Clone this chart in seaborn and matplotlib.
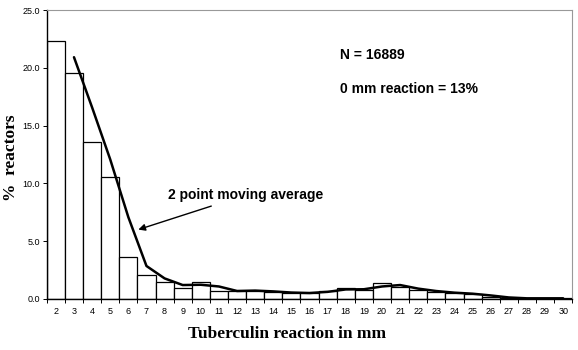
import matplotlib
matplotlib.use("Agg")
import matplotlib.pyplot as plt
import seaborn as sns
import numpy as np
import pandas as pd

mm = list(range(2, 31))
pct = [22.3, 19.55, 13.6, 10.55, 3.6, 2.1, 1.45, 0.95, 1.5, 0.65,
       0.72, 0.72, 0.58, 0.52, 0.5, 0.72, 0.92, 0.75, 1.4, 1.0,
       0.78, 0.58, 0.5, 0.4, 0.2, 0.05, 0.05, 0.05, 0.05]
yticks = [0, 5, 10, 15, 20, 25]

df = pd.DataFrame({"mm": mm, "pct": pct})
df["ma"] = df["pct"].rolling(2).mean()

sns.set_theme(style="white")
plt.rcParams["font.family"] = ["Liberation Sans", "DejaVu Sans"]
plt.rcParams["text.color"] = "black"
plt.rcParams["axes.labelcolor"] = "black"
plt.rcParams["xtick.color"] = "black"
plt.rcParams["ytick.color"] = "black"

fig = plt.figure(figsize=(5.78, 3.5), dpi=100)
ax = fig.add_axes([0.081, 0.146, 0.909, 0.825])

sns.barplot(data=df, x="mm", y="pct", color="white", edgecolor="black",
            linewidth=0.9, width=1.0, saturation=1, ax=ax)
pos = np.arange(len(mm))
sns.lineplot(x=pos[1:], y=df["ma"].values[1:], color="black", linewidth=1.8, ax=ax)

ax.set_xlim(-0.5, len(mm) - 0.5)
ax.set_ylim(0, 25)
ax.set_yticks(yticks)
ax.set_yticklabels([f"{v:.1f}" for v in yticks], fontsize=6.5)
ax.set_xticks(pos)
ax.set_xticklabels([str(m) for m in mm], fontsize=6.5)
ax.set_xticks(np.arange(-0.5, len(mm)), minor=True)
ax.tick_params(axis="x", which="major", length=0, pad=6)
ax.tick_params(axis="x", which="minor", length=3, width=0.7, color="black", bottom=True)
ax.tick_params(axis="y", length=3, width=0.7, color="black", left=True, pad=2)

for s in ["left", "bottom"]:
    ax.spines[s].set_color("black")
    ax.spines[s].set_linewidth(1.0)
for s in ["top", "right"]:
    ax.spines[s].set_color("#999999")
    ax.spines[s].set_linewidth(0.8)

ax.set_xlabel("Tuberculin reaction in mm", fontfamily="Liberation Serif",
              fontweight="bold", fontsize=12.5)
ax.set_ylabel("%  reactors", fontfamily="Liberation Serif",
              fontweight="bold", fontsize=12.5)
ax.xaxis.set_label_coords(0.458, -0.121)
ax.yaxis.set_label_coords(-0.068, 0.49)
ax.xaxis.label.set_va("center")
ax.yaxis.label.set_va("center")

ax.text(15.7, 21.1, "N = 16889", fontsize=10, fontweight="bold", va="center", ha="left")
ax.text(15.7, 18.2, "0 mm reaction = 13%", fontsize=10, fontweight="bold", va="center", ha="left")
ax.annotate("2 point moving average", xy=(4.55, 6.0), xytext=(6.2, 9.0),
            fontsize=10, fontweight="bold", va="center", ha="left",
            arrowprops=dict(arrowstyle="-|>", color="black", lw=1.0,
                            shrinkA=2, shrinkB=0, mutation_scale=10))

fig.savefig("out.png", dpi=100)
